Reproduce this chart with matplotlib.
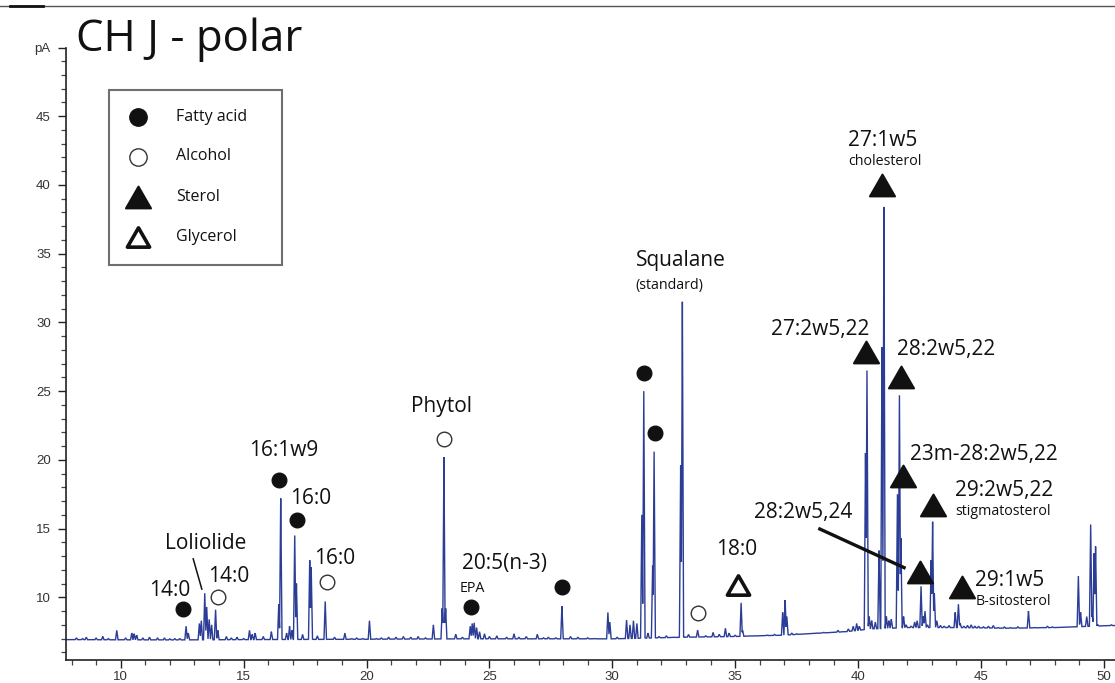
import numpy as np
import matplotlib.pyplot as plt
from matplotlib.lines import Line2D
from matplotlib.markers import MarkerStyle
from matplotlib.patches import Rectangle
from matplotlib.path import Path

# peak apexes of the FID trace: retention time (min) and signal (pA)
peak_rt = [8.2, 8.45, 8.6, 9.0, 9.27, 9.5, 9.84, 10.2, 10.45, 10.55, 10.65, 10.9,
           11.17, 11.5, 11.78, 12.0, 12.2, 12.4,
           12.66, 12.75, 13.2, 13.28, 13.42, 13.5, 13.6, 13.7, 13.86, 13.95, 14.3,
           14.5, 14.73, 15.0, 15.24, 15.35, 15.47, 15.8, 16.13, 16.43, 16.51, 16.75,
           16.87, 16.97, 17.08, 17.15, 17.4, 17.69, 17.75, 18.0, 18.32, 18.7, 19.12,
           19.4, 19.6, 19.85, 20.12, 20.4, 20.6, 20.9, 21.2, 21.5, 21.8, 22.1, 22.4,
           22.72, 23.08, 23.15, 23.22, 23.63, 23.9,
           24.22, 24.3, 24.38, 24.48, 24.6, 24.8, 25.0, 25.3, 25.7, 26.0, 26.2, 26.5,
           26.95, 27.2, 27.4, 27.7, 27.95, 28.3, 28.6, 29.0, 29.3, 29.82, 29.9,
           30.2, 30.58, 30.72, 30.86, 31.0,
           31.2, 31.28, 31.45, 31.64, 31.7, 31.9, 32.2, 32.5, 32.78, 32.85, 33.1,
           33.47, 33.8, 34.1, 34.35, 34.6, 34.75, 35.0, 35.24, 35.3, 35.6, 35.8,
           36.1, 36.3, 36.6, 36.93, 37.03, 37.1, 37.3, 37.5, 37.8, 38.07, 38.3,
           38.6, 38.9, 39.18, 39.4, 39.6, 39.8, 39.94, 40.05, 40.3,
           40.36, 40.45, 40.55, 40.7, 40.85, 40.97, 41.05, 41.15, 41.25, 41.35,
           41.6, 41.68, 41.74, 41.85, 41.95, 42.16, 42.3, 42.4, 42.56, 42.65,
           42.72, 42.82, 42.97, 43.03, 43.1, 43.2, 43.35, 43.5, 43.7, 43.95, 44.08,
           44.15, 44.3, 44.45, 44.6, 44.75, 44.9, 45.1, 45.3, 45.5, 45.7, 45.95,
           46.2, 46.5, 46.7, 46.93, 47.2, 47.5, 47.7, 47.9, 48.1, 48.3, 48.6,
           48.96, 49.05, 49.3, 49.46, 49.52, 49.6, 49.66, 49.75, 50.0, 50.3]
peak_pa = [7.05, 7.0, 7.1, 7.05, 7.15, 7.0, 7.6, 7.05, 7.4, 7.35, 7.25, 7.05,
           7.1, 7.05, 7.05, 6.98, 7.0, 7.0,
           7.9, 7.4, 8.1, 8.3, 10.3, 9.3, 8.4, 8.0, 9.1, 7.6, 7.15,
           7.05, 7.1, 7.0, 7.6, 7.3, 7.4, 7.15, 7.5, 9.5, 17.2, 7.4,
           7.9, 7.6, 14.5, 11.0, 7.3, 12.7, 12.2, 7.2, 9.7, 7.1, 7.4,
           7.0, 7.05, 7.0, 8.3, 7.0,
           7.05, 7.1, 7.1, 7.15, 7.1, 7.15, 7.05,
           8.0, 9.2, 20.2, 9.2, 7.3, 7.1,
           7.9, 8.1, 8.15, 7.8, 7.5, 7.35, 7.15, 7.2, 7.1, 7.35, 7.1, 7.15,
           7.3, 7.05, 7.1, 7.05, 9.35, 7.15, 7.1, 7.05, 7.0, 8.9, 8.2,
           7.1, 8.35, 8.0, 8.3, 8.1,
           16.0, 25.0, 7.4, 12.3, 20.6, 7.15, 7.2, 7.1, 19.6, 31.5, 7.3,
           7.6, 7.2, 7.45, 7.3, 7.75, 7.4, 7.25, 9.6, 7.6, 7.2, 7.2,
           7.2, 7.25, 7.3, 8.9, 9.8, 8.6, 7.4, 7.35, 7.3, 7.35, 7.4,
           7.45, 7.4, 7.6, 7.5, 7.7, 7.9, 8.1, 7.9, 20.5,
           26.5, 8.6, 8.3, 8.2, 13.4, 28.2, 38.4, 8.6, 8.3, 8.4,
           17.5, 24.7, 14.3, 8.6, 8.0, 7.9, 8.2, 8.3, 10.8, 8.6,
           9.0, 8.0, 12.7, 15.5, 10.3, 8.3, 7.95, 7.9, 7.95, 8.9, 9.5,
           8.1, 7.9, 7.95, 8.0, 7.9, 7.9, 7.85, 7.9, 7.95, 7.8, 7.85,
           7.8, 7.85, 7.75, 9.0, 7.8, 7.8, 7.9, 7.85, 7.8, 7.75, 7.8,
           11.55, 8.9, 8.6, 15.3, 8.8, 13.2, 13.7, 8.0, 7.9, 8.0]

# slowly drifting baseline under the peaks
base_rt = [7.78, 12.0, 16.0, 20.0, 24.0, 28.0, 30.0, 33.0, 35.0, 37.0, 38.0, 39.5,
           40.5, 42.0, 44.0, 46.0, 48.0, 49.5, 50.45]
base_pa = [6.92, 6.9, 6.93, 6.95, 6.98, 6.98, 6.98, 7.1, 7.15, 7.25, 7.35, 7.5,
           7.7, 7.8, 7.8, 7.75, 7.8, 7.9, 7.95]

# identified compounds, by class (marker placed above each peak)
fatty_rt = [12.55, 16.43, 17.17, 24.27, 27.95, 31.28, 31.75]
fatty_pa = [9.13, 18.57, 15.6, 9.32, 10.72, 26.3, 21.96]
alcohol_rt = [13.94, 18.4, 23.15, 33.47]
alcohol_pa = [10.0, 11.1, 21.5, 8.86]
sterol_rt = [40.96, 40.32, 41.73, 41.84, 43.06, 42.52, 44.21]
sterol_pa = [40.0, 27.88, 26.06, 18.83, 16.7, 11.86, 10.77]
glycerol_rt = [35.1]
glycerol_pa = [10.9]

classes = ['Fatty acid', 'Alcohol', 'Sterol', 'Glycerol']
x_ticks = [10, 15, 20, 25, 30, 35, 40, 45, 50]
y_ticks = [10, 15, 20, 25, 30, 35, 40, 45, 50]
y_ticklabels = ['10', '15', '20', '25', '30', '35', '40', '45', 'pA']

LABEL_FONT = ['Open Sans', 'DejaVu Sans']
TICK_FONT = ['Liberation Sans Narrow', 'Liberation Sans', 'DejaVu Sans']
TRACE = '#2b3d96'
INK = '#111111'

W, H = 1115, 683
fig = plt.figure(figsize=(W / 100, H / 100), dpi=100)
ax = fig.add_axes([66 / W, (H - 660) / H, (W - 66) / W, (660 - 47.5) / H])

# build the trace on a fine grid (apexes included): narrow peaks over the baseline
t = np.union1d(np.arange(7.78, 50.45, 0.004), peak_rt)
base = np.interp(t, base_rt, base_pa)
sig = base.copy()
hw = 0.05
for rt, pa in zip(peak_rt, peak_pa):
    b = np.interp(rt, base_rt, base_pa)
    prof = base + (pa - b) * np.clip(1 - np.abs(t - rt) / hw, 0, 1)
    sig = np.maximum(sig, prof)
ax.plot(t, sig, color=TRACE, lw=1.0, solid_joinstyle='miter')

ax.set_xlim(7.775, 50.45)
ax.set_ylim(5.44, 50)

# axes styling
for s in ['top', 'right']:
    ax.spines[s].set_visible(False)
for s in ['left', 'bottom']:
    ax.spines[s].set_color('#222222')
    ax.spines[s].set_linewidth(1.2)
ax.set_xticks(x_ticks)
ax.set_xticks(np.arange(8, 51, 1), minor=True)
ax.set_yticks(y_ticks)
ax.set_yticklabels(y_ticklabels)
ax.set_yticks(np.arange(6, 50, 1), minor=True)
ax.tick_params(which='major', length=6, width=1.0, color='#222222',
               labelsize=9.5, labelcolor='#333333', pad=2)
ax.tick_params(which='minor', length=3.5, width=0.9, color='#444444')
ax.tick_params(axis='y', which='major', pad=5)
for lab in ax.get_xticklabels() + ax.get_yticklabels():
    lab.set_family(TICK_FONT)

tri = Path([(0, 1), (-1.15, -1), (1.15, -1), (0, 1)], closed=True)
tri_m = MarkerStyle(tri, joinstyle='round')
circ_m = MarkerStyle('o')

ax.plot(fatty_rt, fatty_pa, ls='none', marker=circ_m, ms=10.5,
        mfc=INK, mec=INK, zorder=5)
ax.plot(alcohol_rt, alcohol_pa, ls='none', marker=circ_m, ms=10.5,
        mfc='white', mec='#333333', mew=1.0, zorder=5)
ax.plot(sterol_rt, sterol_pa, ls='none', marker=tri_m, ms=18,
        mfc=INK, mec=INK, mew=1.5, zorder=5)
ax.plot(glycerol_rt, glycerol_pa, ls='none', marker=tri_m, ms=16,
        mfc='white', mec=INK, mew=2.6, zorder=5)

big = 15
small = 10.3


def label(x, y, s, size=big, ha='center'):
    ax.text(x, y, s, fontsize=size, ha=ha, va='center', color=INK,
            family=LABEL_FONT, zorder=6)


label(12.0, 10.53, '14:0')
label(13.44, 13.9, 'Loliolide')
label(14.39, 11.5, '14:0')
label(16.63, 20.68, '16:1w9')
label(17.72, 17.17, '16:0')
label(18.7, 12.8, '16:0')
label(23.06, 23.9, 'Phytol')
label(25.6, 12.46, '20:5(n-3)')
label(23.8, 10.65, 'EPA', size=small, ha='left')
label(30.95, 34.5, 'Squalane', ha='left')
label(30.95, 32.7, '(standard)', size=small, ha='left')
label(35.05, 13.45, '18:0')
label(38.45, 29.5, '27:2w5,22')
label(41.0, 43.2, '27:1w5')
label(41.1, 41.7, 'cholesterol', size=small)
label(43.6, 28.0, '28:2w5,22')
label(42.1, 20.4, '23m-28:2w5,22', ha='left')
label(43.95, 17.75, '29:2w5,22', ha='left')
label(43.95, 16.25, 'stigmatosterol', size=small, ha='left')
label(37.77, 16.15, '28:2w5,24')
label(44.75, 11.2, '29:1w5', ha='left')
label(44.78, 9.7, 'B-sitosterol', size=small, ha='left')

# leader lines
ax.plot([12.95, 13.3], [12.8, 10.6], color=INK, lw=1.1, zorder=6)
ax.plot([38.38, 41.93], [15.02, 12.11], color=INK, lw=2.4,
        solid_capstyle='butt', zorder=6)

fig.text(76 / W, 1 - 40 / H, 'CH J - polar', fontsize=31.5, family=LABEL_FONT,
         color=INK, ha='left', va='center')

# legend box, drawn in figure pixels
fig.add_artist(Rectangle((109 / W, 1 - 265 / H), 173 / W, 175 / H,
                         transform=fig.transFigure, fill=True, fc='white',
                         ec='#6f6f6f', lw=1.5))
leg_y = [116.7, 156.5, 196.7, 236.7]
leg_style = [
    dict(marker=circ_m, ms=12.5, mfc=INK, mec=INK),
    dict(marker=circ_m, ms=12.5, mfc='white', mec='#333333', mew=1.0),
    dict(marker=tri_m, ms=18, mfc=INK, mec=INK, mew=1.5),
    dict(marker=tri_m, ms=16, mfc='white', mec=INK, mew=2.6),
]
for name, yy, st in zip(classes, leg_y, leg_style):
    fig.add_artist(Line2D([138 / W], [1 - yy / H], transform=fig.transFigure,
                          ls='none', **st))
    fig.text(176 / W, 1 - yy / H, name, fontsize=11.5, family=LABEL_FONT,
             color=INK, ha='left', va='center')

# page rule along the top edge
fig.add_artist(Line2D([0, 1], [1 - 6 / H, 1 - 6 / H], transform=fig.transFigure,
                      color='#555555', lw=1.0))
fig.add_artist(Line2D([10 / W, 43 / W], [1 - 6 / H, 1 - 6 / H],
                      transform=fig.transFigure, color='#111111', lw=2.0))

fig.savefig('out.png', dpi=100)
